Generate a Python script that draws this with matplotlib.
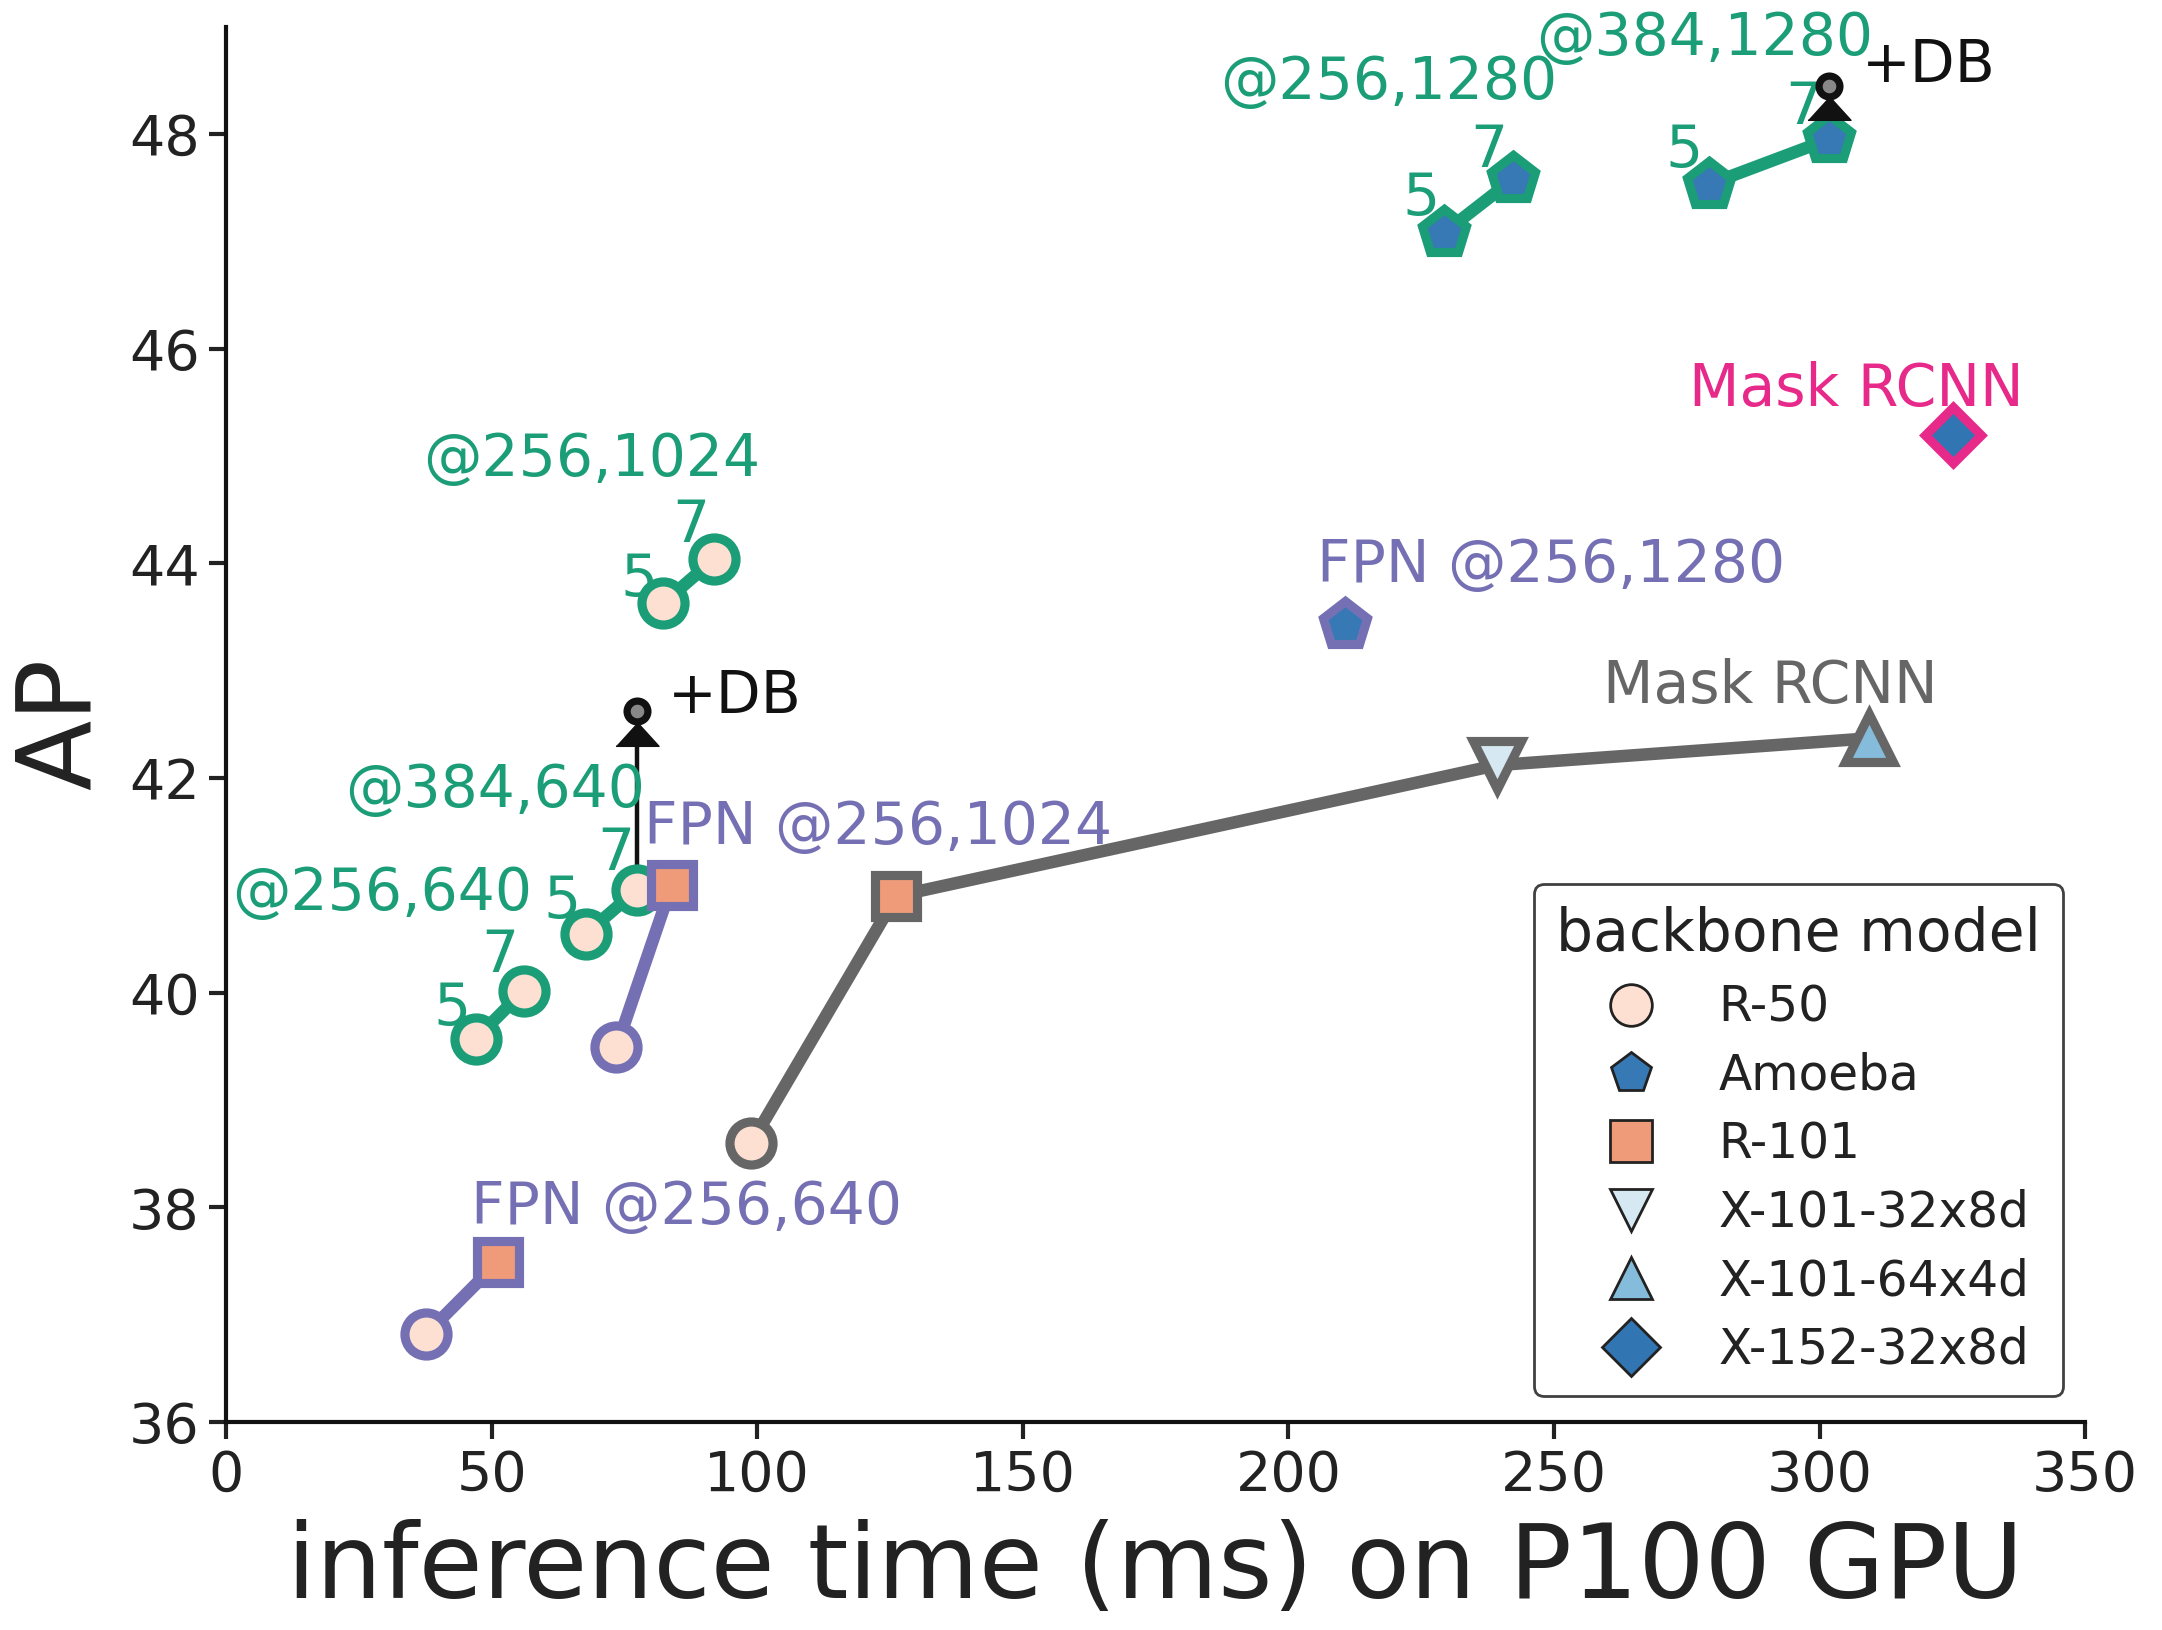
import matplotlib
matplotlib.use("Agg")
import matplotlib.pyplot as plt
from matplotlib.lines import Line2D
from matplotlib.transforms import offset_copy

plt.rcParams['font.family'] = ['DejaVu Sans']

# ---------------- data ----------------
GREEN = '#1b9e77'
PURPLE = '#7570b3'
PINK = '#e7298a'
GREY = '#666666'

backbones = ['R-50', 'Amoeba', 'R-101', 'X-101-32x8d', 'X-101-64x4d', 'X-152-32x8d']
bb_colors = ['#fde0d2', '#3679b5', '#ef9b7a', '#d6e8f1', '#85bcdb', '#3175b3']
bb_markers = ['o', 'p', 's', 'v', '^', 'D']

# green series (ours): (time ms, AP) for depth 5 and 7
g256_640_t = [47.0, 56.1]
g256_640_ap = [39.57, 40.02]
g384_640_t = [67.8, 77.4]
g384_640_ap = [40.55, 40.96]
g256_1024_t = [82.3, 91.9]
g256_1024_ap = [43.63, 44.04]
g256_1280_t = [229.3, 242.3]
g256_1280_ap = [47.08, 47.58]
g384_1280_t = [279.1, 301.7]
g384_1280_ap = [47.53, 47.95]

# FPN series
fpn640_t = [37.7, 51.2]
fpn640_ap = [36.82, 37.49]
fpn1024_t = [73.5, 83.9]
fpn1024_ap = [39.49, 41.0]
fpn1280_t = [210.6]
fpn1280_ap = [43.43]

# Mask RCNN (grey)
mrcnn_t = [98.9, 126.2, 239.2, 309.3]
mrcnn_ap = [38.6, 40.9, 42.12, 42.37]
mrcnn_bb = ['R-50', 'R-101', 'X-101-32x8d', 'X-101-64x4d']

# Mask RCNN X-152 (pink)
mrcnn152_t = [325.1]
mrcnn152_ap = [45.2]

# +DB improvements: (time, AP from, AP to)
db_t = [77.4, 301.7]
db_from = [40.96, 47.95]
db_to = [42.62, 48.45]

xticks = [0, 50, 100, 150, 200, 250, 300, 350]
yticks = [36, 38, 40, 42, 44, 46, 48]

# ---------------- figure ----------------
fig = plt.figure(figsize=(10.81, 8.15), dpi=200)
ax = fig.add_axes([0.1045, 0.1276, 0.86, 0.856])

bb_col = dict(zip(backbones, bb_colors))
bb_mk = dict(zip(backbones, bb_markers))

MS = {'o': 15.5, 'p': 17, 's': 15, 'v': 17, '^': 17, 'D': 14.5}
LW = 4.5
MEW = 3.3


def series(t, ap, bbs, color, z=3):
    ax.plot(t, ap, '-', color=color, lw=LW, zorder=z, solid_capstyle='round')
    for x, y, b in zip(t, ap, bbs):
        m = bb_mk[b]
        ax.plot([x], [y], linestyle='none', marker=m, ms=MS[m],
                mfc=bb_col[b], mec=color, mew=MEW, zorder=z + 1)


series(g256_640_t, g256_640_ap, ['R-50', 'R-50'], GREEN)
series(g384_640_t, g384_640_ap, ['R-50', 'R-50'], GREEN)
series(g256_1024_t, g256_1024_ap, ['R-50', 'R-50'], GREEN)
series(g256_1280_t, g256_1280_ap, ['Amoeba', 'Amoeba'], GREEN)
series(g384_1280_t, g384_1280_ap, ['Amoeba', 'Amoeba'], GREEN)
series(fpn640_t, fpn640_ap, ['R-50', 'R-101'], PURPLE)
series(fpn1024_t, fpn1024_ap, ['R-50', 'R-101'], PURPLE)
series(fpn1280_t, fpn1280_ap, ['Amoeba'], PURPLE)
series(mrcnn_t, mrcnn_ap, mrcnn_bb, GREY)
series(mrcnn152_t, mrcnn152_ap, ['X-152-32x8d'], PINK)

# +DB arrows: thin stem, flat triangular head, small grey dot on top
tri = [(-1, -0.55), (1, -0.55), (0, 0.55)]
tri_trans = offset_copy(ax.transData, fig=fig, x=0, y=-8, units='points')
for x, y0, y1 in zip(db_t, db_from, db_to):
    ax.plot([x, x], [y0, y1 - 0.25], color='#111111', lw=1.6, zorder=2.5)
    ax.plot([x], [y1], linestyle='none', marker=tri, ms=15.5,
            mfc='#111111', mec='#111111', mew=0.5, zorder=6, transform=tri_trans)
    ax.plot([x], [y1], linestyle='none', marker='o', ms=7.5,
            mfc='#888888', mec='#111111', mew=2.6, zorder=7)

FS = 21
# green labels
ax.text(29.4, 40.92, '@256,640', color=GREEN, fontsize=FS, ha='center', va='center')
ax.text(50.6, 41.88, '@384,640', color=GREEN, fontsize=FS, ha='center', va='center')
ax.text(68.8, 44.97, '@256,1024', color=GREEN, fontsize=FS, ha='center', va='center')
ax.text(218.9, 48.48, '@256,1280', color=GREEN, fontsize=FS, ha='center', va='center')
ax.text(278.4, 48.89, '@384,1280', color=GREEN, fontsize=FS, ha='center', va='center')

depth_labels = [
    (42.6, 39.85, '5'), (51.5, 40.35, '7'),
    (63.3, 40.85, '5'), (73.3, 41.3, '7'),
    (77.7, 43.85, '5'), (87.5, 44.35, '7'),
    (224.9, 47.4, '5'), (237.7, 47.85, '7'),
    (274.4, 47.85, '5'), (297.0, 48.25, '7'),
]
for x, y, s in depth_labels:
    ax.text(x, y, s, color=GREEN, fontsize=FS, ha='center', va='center', zorder=5)

# +DB labels
ax.text(83.1, 42.76, '+DB', color='#111111', fontsize=FS, ha='left', va='center')
ax.text(308.0, 48.64, '+DB', color='#111111', fontsize=FS, ha='left', va='center')

# FPN labels
ax.text(86.7, 38.0, 'FPN @256,640', color=PURPLE, fontsize=FS, ha='center', va='center')
ax.text(122.8, 41.54, 'FPN @256,1024', color=PURPLE, fontsize=FS, ha='center', va='center')
ax.text(249.5, 43.98, 'FPN @256,1280', color=PURPLE, fontsize=FS, ha='center', va='center')

# Mask RCNN labels
ax.text(290.8, 42.85, 'Mask RCNN', color=GREY, fontsize=FS, ha='center', va='center')
ax.text(306.9, 45.62, 'Mask RCNN', color=PINK, fontsize=FS, ha='center', va='center')

# axes styling
ax.set_xlim(0, 350)
ax.set_ylim(36, 49)
ax.set_xticks(xticks)
ax.set_yticks(yticks)
ax.tick_params(axis='both', labelsize=20, length=6, width=1.5, colors='#222222')
for s in ['top', 'right']:
    ax.spines[s].set_visible(False)
for s in ['left', 'bottom']:
    ax.spines[s].set_linewidth(1.5)
    ax.spines[s].set_color('#111111')
ax.set_xlabel('inference time (ms) on P100 GPU', fontsize=37.5, color='#222222', labelpad=6)
ax.set_ylabel('AP', fontsize=37, color='#222222', labelpad=6)

# legend
handles = []
leg_ms = {'o': 15, 'p': 15, 's': 15, 'v': 15, '^': 15, 'D': 15}
for b, c, m in zip(backbones, bb_colors, bb_markers):
    handles.append(Line2D([], [], linestyle='none', marker=m, ms=leg_ms[m],
                          mfc=c, mec='#222222', mew=1.0, label=b))
leg = ax.legend(handles=handles, title='backbone model', loc='lower right',
                bbox_to_anchor=(0.988, 0.019), borderaxespad=0,
                fontsize=17.5, title_fontsize=21,
                frameon=True, fancybox=True, edgecolor='#111111',
                labelspacing=0.42, handletextpad=0.5, borderpad=0.45,
                handlelength=2.6)
leg.get_frame().set_linewidth(1.0)
for t in leg.get_texts():
    t.set_color('#222222')
leg.get_title().set_color('#222222')

fig.savefig('out.png', dpi=200)
